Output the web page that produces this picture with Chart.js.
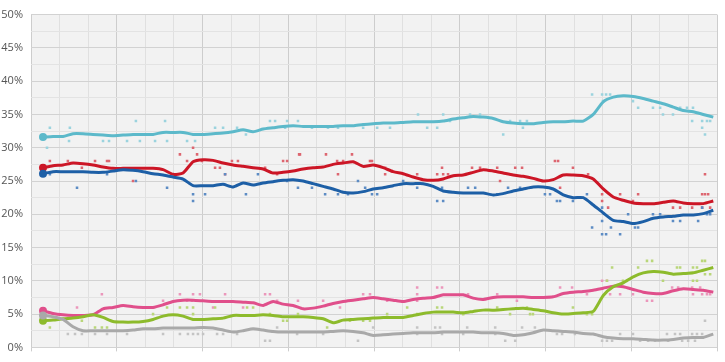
<!DOCTYPE html>
<html>
<head>
<meta charset="utf-8">
<script src="https://cdn.jsdelivr.net/npm/chart.js@4.4.1/dist/chart.umd.min.js"></script>
<style>
  html, body { margin: 0; padding: 0; background: #ffffff; }
  #wrap { width: 725px; height: 362px; }
</style>
</head>
<body>
<div id="wrap"><canvas id="pollChart"></canvas></div>
<script>
// Months since start of the period (x axis, 24 months)
const trendMonths = [0.42, 0.77, 1.12, 1.47, 1.82, 2.17, 2.52, 2.87, 3.22, 3.57, 3.92, 4.27, 4.62, 4.97,
  5.32, 5.67, 6.02, 6.37, 6.72, 7.07, 7.42, 7.77, 8.12, 8.47, 8.82, 9.17, 9.52, 9.87, 10.22, 10.57,
  10.92, 11.27, 11.62, 11.97, 12.32, 12.67, 13.02, 13.37, 13.72, 14.07, 14.42, 14.77, 15.12, 15.47,
  15.82, 16.17, 16.52, 16.87, 17.22, 17.57, 17.92, 18.27, 18.62, 18.97, 19.32, 19.67, 20.02, 20.37,
  20.72, 21.07, 21.42, 21.77, 22.12, 22.47, 22.82, 23.17, 23.52, 23.87];

// Trend lines (%)
const lightBlueTrend = [31.6, 31.7, 31.7, 32.1, 32.1, 32.0, 31.9, 31.8, 31.9, 32.0, 32.0, 32.0, 32.3, 32.3,
  32.3, 32.0, 32.0, 32.1, 32.2, 32.4, 32.7, 32.4, 32.8, 33.0, 33.2, 33.3, 33.2, 33.2, 33.2, 33.2,
  33.3, 33.3, 33.5, 33.6, 33.7, 33.7, 33.8, 33.9, 33.9, 33.9, 34.0, 34.3, 34.5, 34.7, 34.6, 34.4,
  33.9, 33.7, 33.6, 33.6, 33.8, 33.9, 33.9, 34.0, 34.0, 35.0, 36.9, 37.6, 37.8, 37.7, 37.4, 37.0,
  36.6, 36.1, 35.6, 35.4, 35.0, 34.6];
const redTrend = [27.0, 27.3, 27.4, 27.7, 27.6, 27.4, 27.1, 26.9, 26.9, 26.9, 26.9, 26.9, 26.7, 26.0,
  26.2, 27.9, 28.2, 28.1, 27.7, 27.4, 27.2, 27.0, 26.8, 26.2, 26.3, 26.5, 26.8, 27.0, 27.1, 27.5,
  27.7, 27.9, 27.2, 27.4, 27.0, 26.4, 26.1, 25.6, 25.2, 25.1, 25.3, 25.8, 25.9, 26.3, 26.7, 26.5,
  26.2, 25.9, 25.7, 25.4, 25.0, 25.2, 25.9, 25.9, 25.8, 25.3, 23.8, 22.6, 22.1, 21.7, 21.6, 21.6,
  21.8, 22.0, 21.7, 21.6, 21.6, 22.0];
const darkBlueTrend = [26.1, 26.4, 26.4, 26.4, 26.4, 26.3, 26.3, 26.5, 26.7, 26.6, 26.4, 26.1, 25.9, 25.6,
  25.3, 24.3, 24.3, 24.3, 24.5, 24.1, 24.7, 24.4, 24.7, 24.9, 25.1, 25.2, 25.0, 24.6, 24.2, 23.8,
  23.3, 23.2, 23.4, 23.8, 24.0, 24.3, 24.6, 24.6, 24.6, 24.2, 23.5, 23.3, 23.2, 23.2, 23.2, 22.9,
  23.1, 23.5, 23.8, 24.1, 24.1, 23.8, 22.9, 22.5, 22.5, 21.4, 20.2, 19.1, 18.9, 18.6, 18.9, 19.4,
  19.6, 19.7, 19.9, 19.9, 20.1, 20.6];
const pinkTrend = [5.5, 5.1, 4.9, 4.8, 4.8, 4.9, 5.8, 6.0, 6.3, 6.1, 6.0, 6.0, 6.4, 6.9,
  7.1, 7.1, 7.0, 6.9, 6.9, 6.9, 6.8, 6.7, 6.3, 6.9, 6.5, 6.3, 5.8, 5.9, 6.2, 6.6,
  6.9, 7.1, 7.3, 7.5, 7.3, 7.1, 6.9, 7.2, 7.4, 7.5, 7.9, 7.9, 7.9, 7.4, 7.2, 7.5,
  7.6, 7.6, 7.6, 7.5, 7.5, 7.6, 8.1, 8.3, 8.4, 8.6, 8.9, 9.2, 9.1, 8.7, 8.3, 8.1,
  8.1, 8.5, 8.8, 8.7, 8.6, 8.3];
const greenTrend = [4.0, 4.1, 4.3, 4.4, 4.6, 4.9, 4.5, 3.9, 3.8, 3.8, 3.9, 4.2, 4.7, 4.9,
  4.7, 4.2, 4.2, 4.3, 4.4, 4.8, 4.8, 4.8, 4.9, 4.8, 4.6, 4.6, 4.6, 4.5, 4.3, 3.7,
  4.1, 4.2, 4.3, 4.4, 4.5, 4.5, 4.5, 4.8, 5.1, 5.3, 5.3, 5.3, 5.2, 5.4, 5.6, 5.6,
  5.7, 5.8, 5.9, 5.7, 5.5, 5.2, 5.0, 5.1, 5.2, 5.4, 7.8, 9.1, 9.7, 10.6, 11.2, 11.4,
  11.3, 11.0, 11.1, 11.2, 11.6, 12.0];
const greyTrend = [4.8, 4.6, 4.2, 3.1, 2.5, 2.5, 2.5, 2.5, 2.5, 2.6, 2.8, 2.8, 2.9, 2.9,
  2.9, 2.9, 3.0, 2.9, 2.6, 2.3, 2.5, 2.8, 2.6, 2.4, 2.3, 2.3, 2.3, 2.3, 2.3, 2.4,
  2.5, 2.4, 2.2, 1.8, 1.9, 2.0, 2.1, 2.2, 2.2, 2.2, 2.3, 2.3, 2.3, 2.3, 2.2, 2.2,
  2.1, 1.8, 1.9, 2.2, 2.6, 2.5, 2.4, 2.3, 2.1, 2.0, 1.6, 1.4, 1.3, 1.3, 1.2, 1.1,
  1.1, 1.2, 1.4, 1.5, 1.5, 2.0];

// Individual polls: [month, %]
const lightBluePolls = [[0.56,30],[0.66,33],[1.36,33],[1.33,31],[2.52,31],[2.73,31],[3.36,31],[3.67,34],
  [3.81,31],[4.34,31],[4.69,34],[4.76,31],[5.46,31],[5.74,31],[6.44,33],[6.72,33],[7.21,33],[7.52,32],
  [8.36,34],[8.54,34],[8.89,33],[8.96,34],[9.34,34],[9.83,33],[10.39,33],[10.74,33],[11.62,33],[12.11,33],
  [12.56,33],[13.54,35],[13.86,33],[14.21,33],[14.42,35],[14.66,34],[15.36,35],[15.71,35],[16.52,32],
  [16.76,34],[17.11,34],[17.35,34],[17.21,33],[19.63,38],[19.98,38],[20.12,38],[20.26,38],[20.01,37],
  [21.06,37],[21.24,36],[21.76,36],[22.01,36],[22.11,35],[22.46,35],[22.71,36],[22.95,36],[23.16,36],
  [23.13,34],[23.48,34],[23.65,34],[23.76,34],[23.48,33],[23.58,32]];
const redPolls = [[0.66,28],[1.29,28],[1.78,27],[2.24,28],[2.66,28],[2.73,28],[3.57,25],[5.21,29],[5.46,28],
  [5.67,30],[5.81,29],[5.98,28],[6.44,27],[6.61,27],[6.79,26],[7.03,28],[7.24,28],[8.19,27],[8.61,26],
  [8.82,28],[8.96,28],[9.38,29],[9.41,29],[10.32,29],[10.71,28],[10.74,26],[10.92,28],[11.23,29],[11.86,28],
  [11.93,28],[12.39,27],[12.39,26],[13.51,26],[14.21,26],[14.38,27],[14.42,26],[14.59,26],[15.43,27],
  [15.71,27],[16.31,27],[16.41,25],[16.94,27],[17.18,27],[18.33,28],[18.44,28],[18.51,24],[18.96,27],
  [19.49,26],[19.98,23],[19.98,22],[20.19,21],[20.61,23],[21.06,22],[21.24,23],[22.46,21],[22.71,21],
  [23.13,21],[23.48,23],[23.58,23],[23.69,23],[23.58,26],[23.48,21],[23.76,21]];
const darkBluePolls = [[0.66,26],[1.61,24],[2.66,26],[3.67,25],[4.76,24],[5.67,23],[5.67,22],[6.09,23],
  [6.79,26],[7.52,23],[7.94,26],[8.96,25],[9.34,24],[9.83,24],[10.29,23],[10.74,23],[11.09,23],[11.44,25],
  [11.69,24],[11.93,23],[12.11,23],[13.02,25],[13.51,24],[14.21,22],[14.42,22],[14.38,24],[15.29,24],
  [15.54,24],[16.31,23],[16.69,24],[17.11,24],[17.98,23],[18.16,23],[18.40,22],[18.51,22],[18.96,22],
  [19.45,23],[19.98,21],[19.98,19],[19.63,18],[19.98,17],[20.12,17],[20.29,18],[20.61,17],[20.89,20],
  [21.13,18],[21.24,18],[21.76,20],[22.01,20],[22.46,19],[22.71,19],[23.34,19],[23.48,21],[23.65,20],[23.76,20]];
const pinkPolls = [[1.61,6],[2.48,8],[4.62,7],[5.21,8],[5.46,7],[5.63,7],[5.67,8],[5.91,8],[6.37,6],[6.79,8],
  [7.42,6],[8.19,8],[8.36,8],[8.61,7],[9.34,7],[10.22,7],[10.81,6],[11.62,8],[11.86,8],[12.46,7],[13.51,9],
  [13.51,8],[13.51,7],[14.21,9],[14.38,9],[15.29,8],[16.31,8],[17.00,7],[18.51,9],[18.93,9],[19.45,8],
  [19.98,10],[20.15,10],[20.26,8],[20.61,8],[21.06,8],[21.55,7],[21.73,7],[22.43,9],[22.64,9],[23.13,9],
  [23.41,9],[23.16,8],[23.48,8],[23.65,8],[23.76,8]];
const greenPolls = [[0.66,3],[1.78,4],[2.24,3],[2.48,3],[2.66,3],[4.27,5],[4.76,6],[5.21,6],[5.46,6],[5.67,6],
  [5.67,5],[6.44,6],[7.56,6],[7.77,6],[8.36,5],[8.82,4],[8.96,4],[9.34,5],[10.36,3],[11.16,4],[11.62,4],
  [11.86,4],[12.46,5],[13.16,6],[13.51,5],[14.21,6],[14.38,6],[15.12,5],[16.31,6],[16.76,5],[17.35,6],
  [17.46,5],[17.56,5],[18.96,6],[19.45,5],[19.63,5],[20.15,10],[20.33,12],[20.71,10],[21.24,12],[21.55,13],
  [21.73,13],[22.11,10],[22.60,12],[22.71,12],[23.16,12],[23.30,12],[23.48,13],[23.58,13],[23.58,11],
  [23.16,10],[23.30,10],[23.76,11]];
const greyPolls = [[1.29,2],[1.54,2],[1.78,2],[2.24,2],[2.66,2],[3.36,2],[4.62,2],[5.21,2],[5.49,2],[5.67,2],
  [5.84,2],[6.02,2],[6.51,2],[6.72,2],[7.21,2],[8.19,1],[8.36,1],[8.61,3],[9.31,2],[10.22,2],[11.44,1],
  [11.97,3],[13.51,3],[13.51,2],[14.14,3],[14.31,3],[14.38,2],[15.12,2],[15.26,3],[16.24,3],[16.24,2],
  [16.59,1],[16.94,1],[17.18,3],[17.63,3],[18.40,2],[18.58,2],[19.03,2],[19.98,1],[20.15,1],[20.33,1],
  [20.61,2],[21.06,2],[21.31,1],[21.59,1],[21.83,1],[22.25,2],[22.29,1],[22.53,2],[22.71,2],[22.78,1],
  [22.99,1],[23.13,2],[23.23,1],[23.30,2],[23.48,2],[23.58,4]];

const parties = [
  { trend: greyTrend,      polls: greyPolls,      line: '#a9a9a9', dot: '#c4c4c4' },
  { trend: greenTrend,     polls: greenPolls,     line: '#8dbb2c', dot: '#b9d67a' },
  { trend: pinkTrend,      polls: pinkPolls,      line: '#e04f8b', dot: '#eb97bb' },
  { trend: darkBlueTrend,  polls: darkBluePolls,  line: '#1d5fa6', dot: '#5d8cc4' },
  { trend: redTrend,       polls: redPolls,       line: '#cc1626', dot: '#dd6670' },
  { trend: lightBlueTrend, polls: lightBluePolls, line: '#5cb9ca', dot: '#9bd3de' }
];

const datasets = [];
parties.forEach(p => {
  datasets.push({
    type: 'scatter',
    data: p.polls.map(d => ({ x: d[0], y: d[1] })),
    backgroundColor: p.dot,
    borderWidth: 0,
    pointStyle: 'rect',
    pointRadius: 1.8,
    order: 2
  });
  datasets.push({
    type: 'line',
    data: trendMonths.map((m, i) => ({ x: m, y: p.trend[i] })),
    borderColor: p.line,
    backgroundColor: p.line,
    borderWidth: 3,
    tension: 0.2,
    pointRadius: ctx => ctx.dataIndex === 0 ? 4 : 0,
    pointBorderWidth: 0,
    order: 1
  });
});

// light grey plot background
const plotBackground = {
  id: 'plotBackground',
  beforeDraw(chart) {
    const { ctx, chartArea: a } = chart;
    ctx.save();
    ctx.fillStyle = '#f2f2f2';
    ctx.fillRect(a.left, a.top, a.right - a.left, a.bottom - a.top);
    ctx.restore();
  }
};

new Chart(document.getElementById('pollChart'), {
  type: 'scatter',
  data: { datasets },
  options: {
    responsive: true,
    maintainAspectRatio: false,
    animation: false,
    layout: { padding: { top: 6, right: 8, bottom: 0, left: 0 } },
    plugins: { legend: { display: false }, tooltip: { enabled: false } },
    scales: {
      x: {
        type: 'linear',
        min: 0,
        max: 24,
        border: { display: false },
        ticks: { stepSize: 1, display: false },
        grid: {
          color: ctx => ctx.tick && ctx.tick.value % 3 === 0 ? '#cdcdcd' : '#e0e0e0',
          tickColor: ctx => ctx.tick && ctx.tick.value % 3 === 0 ? '#cdcdcd' : 'rgba(0,0,0,0)',
          tickLength: 4
        },
        afterFit: s => { s.height = 9; }
      },
      y: {
        min: 0,
        max: 50,
        border: { display: false },
        ticks: {
          stepSize: 2.5,
          autoSkip: false,
          padding: 8,
          color: '#555555',
          font: { family: 'Open Sans', size: 11 },
          callback: v => v % 5 === 0 ? v + '%' : ''
        },
        grid: {
          drawTicks: false,
          color: ctx => ctx.tick && ctx.tick.value % 5 === 0 ? '#d2d2d2' : '#e3e3e3'
        },
        afterFit: s => { s.width = 31; }
      }
    }
  },
  plugins: [plotBackground]
});
</script>
</body>
</html>
